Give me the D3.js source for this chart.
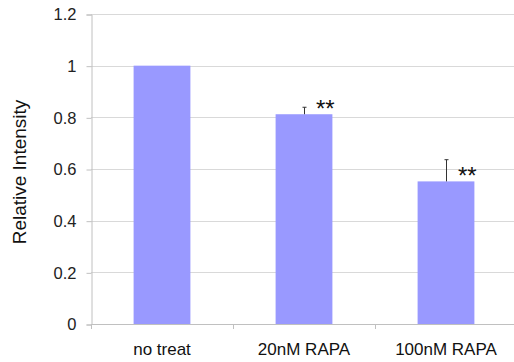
<!DOCTYPE html>
<html>
<head>
<meta charset="utf-8">
<script src="https://cdn.jsdelivr.net/npm/d3@7"></script>
<style>
  body { margin: 0; background: #fff; }
  svg { display: block; font-family: "Liberation Sans", Arial, sans-serif; }
</style>
</head>
<body>
<svg id="chart" width="514" height="362"></svg>
<script>
var categories = ['no treat', '20nM RAPA', '100nM RAPA'];
var values = [1, 0.812, 0.552];
var errors = [0, 0.027, 0.084];
var marks = ['', '**', '**'];
var yTicks = [0, 0.2, 0.4, 0.6, 0.8, 1, 1.2];

var svg = d3.select('#chart');

var plotLeft = 91, plotRight = 517, plotTop = 14, plotBottom = 324;

var x = d3.scaleBand()
    .domain(categories)
    .range([plotLeft, plotRight])
    .paddingInner(0.6)
    .paddingOuter(0.3);

// band edges for the category ticks
var xEdges = d3.scaleBand().domain(categories).range([plotLeft, plotRight]);

var y = d3.scaleLinear()
    .domain([0, 1.2])
    .range([plotBottom, plotTop]);

// gridlines
svg.append('g')
    .selectAll('line')
    .data(yTicks.slice(1))
    .enter().append('line')
    .attr('x1', plotLeft)
    .attr('x2', 514)
    .attr('y1', function(d) { return Math.round(y(d)) + 0.5; })
    .attr('y2', function(d) { return Math.round(y(d)) + 0.5; })
    .attr('stroke', '#d9d9d9')
    .attr('stroke-width', 1);

// y axis
var yAxis = d3.axisLeft(y)
    .tickValues(yTicks)
    .tickSize(5)
    .tickPadding(10)
    .tickFormat(d3.format('~g'));

var gy = svg.append('g')
    .attr('transform', 'translate(' + (plotLeft + 0.5) + ',0.5)')
    .call(yAxis);
gy.select('.domain').attr('stroke', '#c0c0c0');
gy.selectAll('.tick line').attr('stroke', '#c0c0c0');
gy.selectAll('.tick text')
    .attr('fill', '#222')
    .style('font-size', '16.5px')
    .style('font-family', '"Liberation Sans", Arial, sans-serif');

// x axis line and category ticks
svg.append('line')
    .attr('x1', plotLeft).attr('x2', 514)
    .attr('y1', plotBottom + 0.5).attr('y2', plotBottom + 0.5)
    .attr('stroke', '#c0c0c0');

svg.append('g')
    .selectAll('line')
    .data(categories)
    .enter().append('line')
    .attr('x1', function(d) { return Math.round(xEdges(d)) + 0.5; })
    .attr('x2', function(d) { return Math.round(xEdges(d)) + 0.5; })
    .attr('y1', plotBottom)
    .attr('y2', plotBottom + 5)
    .attr('stroke', '#c0c0c0');

svg.append('g')
    .selectAll('text')
    .data(categories)
    .enter().append('text')
    .attr('x', function(d) { return xEdges(d) + xEdges.bandwidth() / 2; })
    .attr('y', 355)
    .attr('text-anchor', 'middle')
    .attr('fill', '#111')
    .style('font-size', '17px')
    .text(function(d) { return d; });

// bars
svg.append('g')
    .selectAll('rect')
    .data(values)
    .enter().append('rect')
    .attr('x', function(d, i) { return x(categories[i]); })
    .attr('width', x.bandwidth())
    .attr('y', function(d) { return y(d); })
    .attr('height', function(d) { return y(0) - y(d); })
    .attr('fill', '#9999ff');

// error bars (upper only)
var err = svg.append('g');
values.forEach(function(v, i) {
  if (!errors[i]) return;
  var cx = Math.round(x(categories[i]) + x.bandwidth() / 2) + 0.5;
  err.append('line')
      .attr('x1', cx).attr('x2', cx)
      .attr('y1', y(v)).attr('y2', y(v + errors[i]))
      .attr('stroke', '#333');
  err.append('line')
      .attr('x1', cx - 2).attr('x2', cx + 2)
      .attr('y1', y(v + errors[i])).attr('y2', y(v + errors[i]))
      .attr('stroke', '#333');
});

// significance stars
svg.append('g')
    .selectAll('text')
    .data(values)
    .enter().append('text')
    .attr('x', function(d, i) { return x(categories[i]) + x.bandwidth() / 2 + 12; })
    .attr('y', function(d) { return y(d) + 3; })
    .attr('fill', '#111')
    .style('font-size', '24px')
    .text(function(d, i) { return marks[i]; });

// y axis title
svg.append('text')
    .attr('transform', 'translate(26,172) rotate(-90)')
    .attr('text-anchor', 'middle')
    .attr('fill', '#111')
    .style('font-size', '19px')
    .text('Relative Intensity');
</script>
</body>
</html>
